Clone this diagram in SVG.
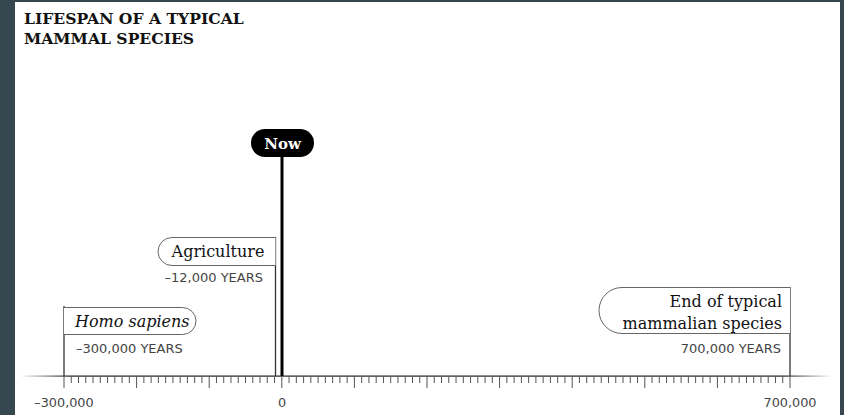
<svg xmlns="http://www.w3.org/2000/svg" width="844" height="415" viewBox="0 0 844 415">
<style>
.title{font-family:"DejaVu Serif","Liberation Serif",serif;font-weight:bold;font-size:15.6px;fill:#111}
.lbl{font-family:"DejaVu Serif","Liberation Serif",serif;font-size:16px;fill:#111}
.yr{font-family:"DejaVu Sans","Noto Sans",sans-serif;font-size:13px;fill:#444}
.ax{font-family:"DejaVu Sans","Noto Sans",sans-serif;font-size:12.8px;fill:#444;text-anchor:middle}
.box{fill:#fff;stroke:#666;stroke-width:1}
.stem{stroke:#333;stroke-width:1.3;fill:none}
.tick{stroke:#555;stroke-width:1;fill:none}
</style>
<defs>
<linearGradient id="axg" x1="20" y1="0" x2="832" y2="0" gradientUnits="userSpaceOnUse">
<stop offset="0" stop-color="#222" stop-opacity="0"/>
<stop offset="0.06" stop-color="#222" stop-opacity="1"/>
<stop offset="0.94" stop-color="#222" stop-opacity="1"/>
<stop offset="1" stop-color="#222" stop-opacity="0"/>
</linearGradient>
</defs>
<rect width="844" height="415" fill="#37474f"/>
<rect x="15" y="2" width="825" height="413" fill="#fff"/>
<g id="title">
<text class="title" x="24" y="24">LIFESPAN OF A TYPICAL</text>
<text class="title" x="24" y="44">MAMMAL SPECIES</text>
</g>
<g id="axis">
<rect x="20" y="375.5" width="812" height="1.2" fill="url(#axg)"/>
<path class="tick" d="M71.26 376v7M78.52 376v7M85.78 376v7M93.04 376v7M100.3 376v7M107.56 376v7M114.82 376v7M122.08 376v7M129.34 376v7M143.86 376v7M151.12 376v7M158.38 376v7M165.64 376v7M172.9 376v7M180.16 376v7M187.42 376v7M194.68 376v7M201.94 376v7M216.46 376v7M223.72 376v7M230.98 376v7M238.24 376v7M245.5 376v7M252.76 376v7M260.02 376v7M267.28 376v7M274.54 376v7M289.06 376v7M296.32 376v7M303.58 376v7M310.84 376v7M318.1 376v7M325.36 376v7M332.62 376v7M339.88 376v7M347.14 376v7M361.66 376v7M368.92 376v7M376.18 376v7M383.44 376v7M390.7 376v7M397.96 376v7M405.22 376v7M412.48 376v7M419.74 376v7M434.26 376v7M441.52 376v7M448.78 376v7M456.04 376v7M463.3 376v7M470.56 376v7M477.82 376v7M485.08 376v7M492.34 376v7M506.86 376v7M514.12 376v7M521.38 376v7M528.64 376v7M535.9 376v7M543.16 376v7M550.42 376v7M557.68 376v7M564.94 376v7M579.46 376v7M586.72 376v7M593.98 376v7M601.24 376v7M608.5 376v7M615.76 376v7M623.02 376v7M630.28 376v7M637.54 376v7M652.06 376v7M659.32 376v7M666.58 376v7M673.84 376v7M681.1 376v7M688.36 376v7M695.62 376v7M702.88 376v7M710.14 376v7M724.66 376v7M731.92 376v7M739.18 376v7M746.44 376v7M753.7 376v7M760.96 376v7M768.22 376v7M775.48 376v7M782.74 376v7"/>
<path class="tick" d="M64 376v12M136.6 376v12M209.2 376v12M281.8 376v12M354.4 376v12M427 376v12M499.6 376v12M572.2 376v12M644.8 376v12M717.4 376v12M790 376v12"/>
<text class="ax" x="64" y="407">–300,000</text>
<text class="ax" x="282" y="407">0</text>
<text class="ax" x="790" y="407">700,000</text>
</g>
<g id="connectors">
<line class="stem" x1="64" y1="306" x2="64" y2="376"/>
<line class="stem" x1="275.5" y1="237" x2="275.5" y2="376"/>
<line x1="282" y1="150" x2="282" y2="376" stroke="#000" stroke-width="3"/>
<line class="stem" x1="790" y1="287" x2="790" y2="376"/>
</g>
<g id="homo-sapiens">
<path class="box" d="M64 307.5H182.5a13.5 13.5 0 0 1 0 27H64"/>
<text class="lbl" x="75" y="327" font-style="italic" font-size="15.5">Homo sapiens</text>
<text class="yr" x="76" y="353">–300,000 YEARS</text>
</g>
<g id="agriculture">
<path class="box" d="M275.5 237.5H172a14 14 0 0 0 0 28H275.5"/>
<text class="lbl" x="218" y="257" text-anchor="middle">Agriculture</text>
<text class="yr" x="263" y="282" text-anchor="end">–12,000 YEARS</text>
</g>
<g id="now">
<rect x="251" y="129" width="63" height="28" rx="14" fill="#000"/>
<text x="282.5" y="149" text-anchor="middle" font-family="DejaVu Serif, Liberation Serif, serif" font-weight="bold" font-size="15" fill="#fff">Now</text>
</g>
<g id="end-species">
<path class="box" d="M790 287.5H622a17 17 0 0 0 0 46H790"/>
<text class="lbl" x="782" y="307" text-anchor="end">End of typical</text>
<text class="lbl" x="782" y="329" text-anchor="end">mammalian species</text>
<text class="yr" x="781" y="353" text-anchor="end">700,000 YEARS</text>
</g>
</svg>
